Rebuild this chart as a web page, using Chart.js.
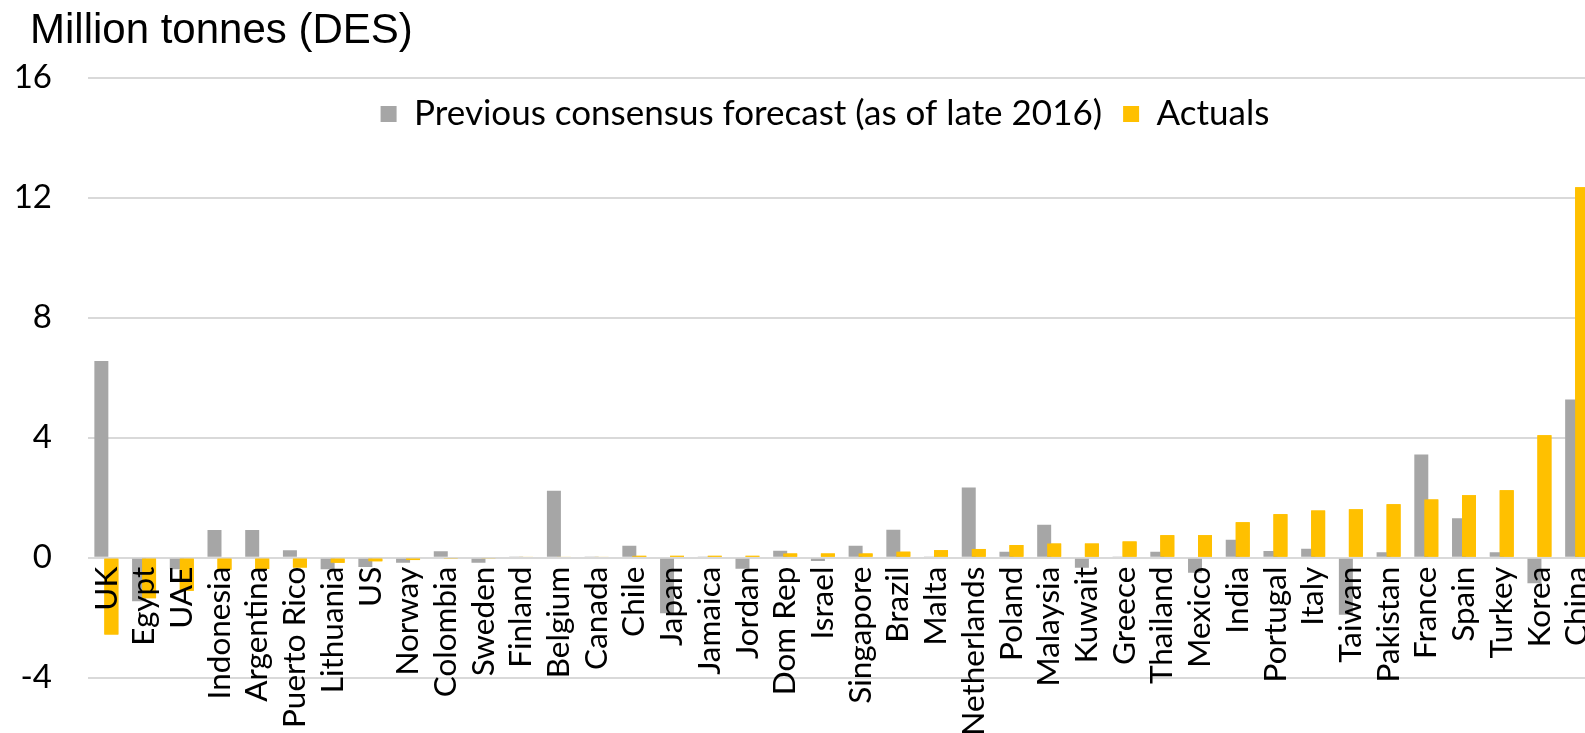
<!DOCTYPE html>
<html lang="en">
<head>
    <meta charset="UTF-8">
    <title>LNG demand: forecast vs actuals</title>
    <style>
        body {
            margin: 0;
            background: #fff;
            overflow: hidden;
        }
        .chart-box {
            width: 1600px;
            height: 733px;
        }
    </style>
    <script src="https://cdn.jsdelivr.net/npm/chart.js"></script>
</head>
<body>
    <div class="chart-box"><canvas id="demandChart"></canvas></div>
    <script>
        const countries = ['UK', 'Egypt', 'UAE', 'Indonesia', 'Argentina', 'Puerto Rico', 'Lithuania', 'US',
            'Norway', 'Colombia', 'Sweden', 'Finland', 'Belgium', 'Canada', 'Chile', 'Japan', 'Jamaica',
            'Jordan', 'Dom Rep', 'Israel', 'Singapore', 'Brazil', 'Malta', 'Netherlands', 'Poland',
            'Malaysia', 'Kuwait', 'Greece', 'Thailand', 'Mexico', 'India', 'Portugal', 'Italy', 'Taiwan',
            'Pakistan', 'France', 'Spain', 'Turkey', 'Korea', 'China'];

        // change vs 2016, million tonnes
        const forecast = [6.55, -1.45, -0.39, 0.92, 0.92, 0.25, -0.39, -0.31,
            -0.17, 0.21, -0.17, 0.02, 2.23, 0.02, 0.40, -1.85, 0.02,
            -0.37, 0.23, -0.11, 0.40, 0.93, 0.02, 2.34, 0.20,
            1.10, -0.34, 0.02, 0.20, -0.50, 0.60, 0.22, 0.30, -1.90,
            0.18, 3.44, 1.31, 0.18, -0.85, 5.27];

        const actuals = [-2.56, -1.35, -1.1, -0.40, -0.38, -0.33, -0.17, -0.12,
            -0.08, -0.03, -0.04, 0.03, 0.03, 0.03, 0.06, 0.06, 0.06,
            0.06, 0.14, 0.14, 0.14, 0.20, 0.25, 0.29, 0.42,
            0.47, 0.47, 0.54, 0.75, 0.75, 1.18, 1.45, 1.57, 1.61,
            1.78, 1.94, 2.08, 2.25, 4.08, 12.34];

        const yTicks = [-4, 0, 4, 8, 12, 16];

        const labelFont = 'Lato, "Liberation Sans", sans-serif';

        // legend goes inside the plot under the top gridline;
        // y labels may run left of the axis box, so widen its clip
        const plotTweaks = {
            id: 'plotTweaks',
            afterLayout(chart) {
                const lg = chart.legend;
                const h = lg.height;
                lg.top = chart.chartArea.top - 2;
                lg.bottom = lg.top + h;
                lg.left += 12;
                lg.right += 12;
                chart.scales.y.left = 0;
            }
        };

        // actuals overlap the forecast bars, so paint them last
        const actualsOnTop = {
            id: 'actualsOnTop',
            afterDatasetsDraw(chart) {
                chart.getDatasetMeta(1).controller.draw();
            }
        };

        new Chart(document.getElementById('demandChart'), {
            type: 'bar',
            data: {
                labels: countries,
                datasets: [{
                    label: 'Previous consensus forecast (as of late 2016)',
                    data: forecast,
                    backgroundColor: '#a6a6a6'
                }, {
                    label: 'Actuals',
                    data: actuals,
                    backgroundColor: '#ffc000'
                }]
            },
            options: {
                responsive: true,
                maintainAspectRatio: false,
                animation: false,
                categoryPercentage: 0.53,
                barPercentage: 1.4,
                layout: {
                    padding: { left: 30, right: 4, top: 0, bottom: -15 }
                },
                scales: {
                    x: {
                        position: { y: 0 },
                        grid: { display: false, drawTicks: false },
                        border: { display: false },
                        ticks: {
                            z: 1,
                            autoSkip: false,
                            minRotation: 90,
                            maxRotation: 90,
                            padding: 9,
                            color: '#000',
                            font: { family: labelFont, size: 31.5 }
                        },
                        afterFit(scale) {
                            scale.height = 0;
                            scale.paddingLeft = 0;
                            scale.paddingRight = 0;
                        }
                    },
                    y: {
                        min: yTicks[0],
                        max: yTicks[yTicks.length - 1],
                        grid: { color: '#d9d9d9', lineWidth: 2, drawTicks: false },
                        border: { display: false },
                        ticks: {
                            stepSize: yTicks[1] - yTicks[0],
                            padding: 35.5,
                            color: '#000',
                            font: { family: labelFont, size: 33 }
                        },
                        afterFit(scale) { scale.width = 57.5; }
                    }
                },
                plugins: {
                    title: {
                        display: true,
                        text: 'Million tonnes (DES)',
                        align: 'start',
                        color: '#000',
                        font: { family: '"Liberation Sans", Arial, sans-serif', size: 42, weight: 'normal', lineHeight: 1.2 },
                        padding: { top: 6, bottom: 21.1 }
                    },
                    legend: {
                        position: 'bottom',
                        labels: {
                            boxWidth: 16,
                            boxHeight: 16,
                            padding: 21,
                            color: '#000',
                            font: { family: labelFont, size: 35 }
                        }
                    },
                    tooltip: { enabled: false }
                }
            },
            plugins: [plotTweaks, actualsOnTop]
        });
    </script>
</body>
</html>
